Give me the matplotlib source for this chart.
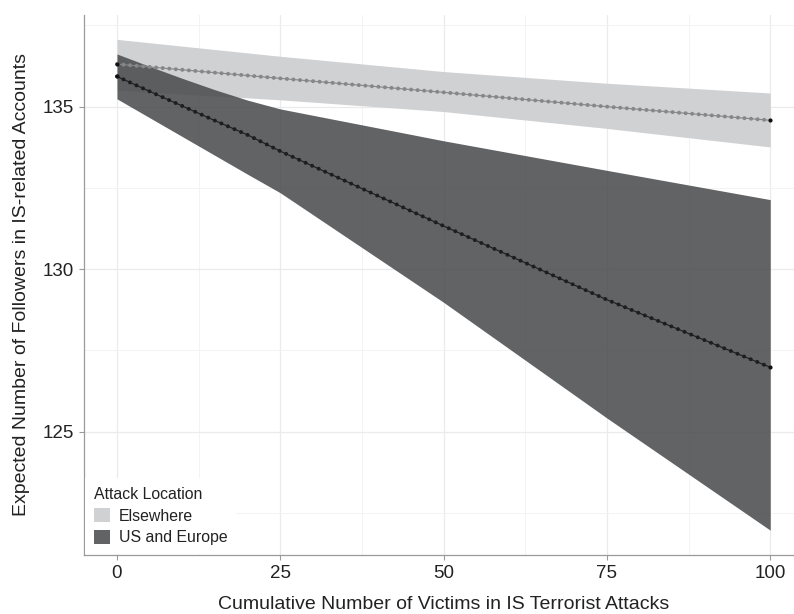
import numpy as np
import matplotlib
matplotlib.use("Agg")
import matplotlib.pyplot as plt
from matplotlib.patches import Patch

plt.rcParams['font.family'] = ['Liberation Sans', 'DejaVu Sans']

# predicted followers, attacks elsewhere
el_x = [0, 25, 50, 75, 100]
el_fit = [136.31, 135.87, 135.44, 135.00, 134.58]
el_hi = [137.07, 136.55, 136.08, 135.72, 135.42]
el_lo = [135.51, 135.21, 134.85, 134.33, 133.76]

# predicted followers, attacks in US and Europe
us_x = [0, 5, 10, 15, 20, 25, 50, 75, 100]
us_fit = [135.93, 135.47, 135.02, 134.57, 134.13, 133.63, 131.33, 129.06, 126.98]
us_hi = [136.62, 136.24, 135.87, 135.52, 135.20, 134.93, 133.95, 133.04, 132.14]
us_lo = [135.24, 134.66, 134.08, 133.50, 132.92, 132.35, 128.98, 125.42, 121.97]

labels = ['Elsewhere', 'US and Europe']
light = '#d0d1d3'
dark = '#4c4d4f'
txt = '#222222'

fig = plt.figure(figsize=(7.94, 6.14), dpi=100)
ax = fig.add_axes([0.1062, 0.0963, 0.905, 0.8798])
ax.set_xlim(-5, 105)
ax.set_ylim(121.21, 137.83)

ax.fill_between(el_x, el_lo, el_hi, color=light, lw=0, zorder=2)
ax.fill_between(us_x, us_lo, us_hi, color=dark, alpha=0.88, lw=0, zorder=3)


def dotted(x, y, col, z):
    # thin line plus one dot per unit of x, done with a dash pattern
    ax.plot(x, y, color=col, lw=0.8, zorder=z)
    p0 = ax.transData.transform((x[0], y[0]))
    p1 = ax.transData.transform((x[-1], y[-1]))
    per_unit = np.hypot(*(p1 - p0)) / (x[-1] - x[0])  # px per x unit
    lw = 2.9
    gap = per_unit * 72 / fig.dpi / lw
    ax.plot(x, y, color=col, lw=lw, linestyle=(0, (0.001, gap)),
            dash_capstyle='round', zorder=z)
    ax.scatter([x[0], x[-1]], [y[0], y[-1]], s=9, color='#111111', zorder=z + 1, lw=0)


dotted(el_x, el_fit, '#878787', 4)
dotted(us_x, us_fit, '#1e1e1e', 5)

ax.set_xticks([0, 25, 50, 75, 100])
ax.set_xticks([12.5, 37.5, 62.5, 87.5], minor=True)
ax.set_yticks([125, 130, 135])
ax.set_yticks([122.5, 127.5, 132.5, 137.5], minor=True)
ax.grid(which='major', color='#ebebeb', lw=0.9, zorder=0)
ax.grid(which='minor', color='#f3f3f3', lw=0.7, zorder=0)
ax.set_axisbelow(True)

for s in ['top', 'right']:
    ax.spines[s].set_visible(False)
for s in ['left', 'bottom']:
    ax.spines[s].set_color('#9a9a9a')
    ax.spines[s].set_linewidth(0.9)
ax.tick_params(which='major', length=3.5, width=0.8, color='#9a9a9a',
               labelsize=13.5, labelcolor=txt, pad=4)
ax.tick_params(which='minor', length=0)

ax.set_xlabel('Cumulative Number of Victims in IS Terrorist Attacks',
              fontsize=14, color=txt, labelpad=10)
ax.set_ylabel('Expected Number of Followers in IS-related Accounts',
              fontsize=14, color=txt, labelpad=9)

handles = [Patch(facecolor=light, edgecolor='none'),
           Patch(facecolor=dark, alpha=0.88, edgecolor='none')]
leg = ax.legend(handles, labels, title='Attack Location', loc='lower left',
                bbox_to_anchor=(0, 0), borderaxespad=0.05, fontsize=11.4,
                title_fontsize=11.4, frameon=True, fancybox=False,
                handlelength=1.0, handleheight=1.0, handletextpad=0.6,
                labelspacing=0.4, borderpad=0.55, alignment='left')
leg.get_frame().set_facecolor('white')
leg.get_frame().set_edgecolor('none')
leg.get_frame().set_alpha(1)
for t in leg.get_texts():
    t.set_color(txt)
leg.get_title().set_color(txt)
leg.set_zorder(10)

fig.savefig('out.png', dpi=100)
